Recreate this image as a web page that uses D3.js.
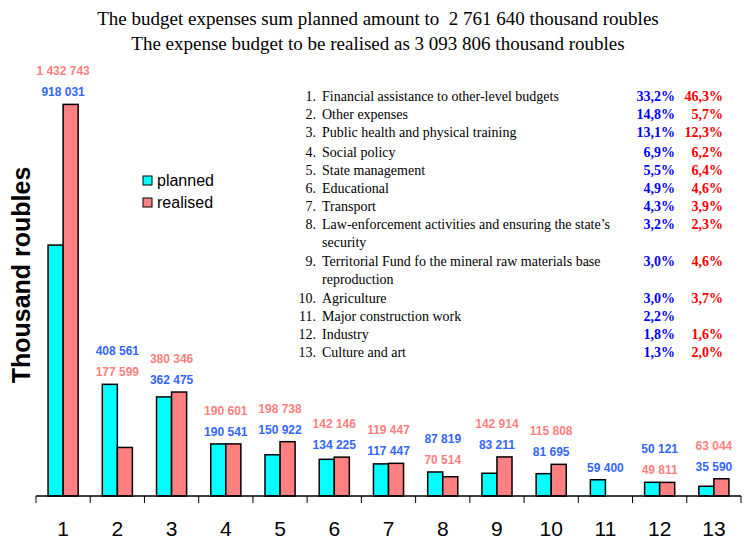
<!DOCTYPE html>
<html><head><meta charset="utf-8">
<script src="https://cdn.jsdelivr.net/npm/d3@7"></script>
<style>body{margin:0;background:#fff}svg{display:block}</style>
</head><body><svg id="c" width="753" height="551"></svg>
<script>
const categories = ["1","2","3","4","5","6","7","8","9","10","11","12","13"];
const planned = [918031,408561,362475,190541,150922,134225,117447,87819,83211,81695,59400,50121,35590];
const realised = [1432743,177599,380346,190601,198738,142146,119447,70514,142914,115808,null,49811,63044];
const itemNames = ["Financial assistance to other-level budgets","Other expenses","Public health and physical training","Social policy","State management","Educational","Transport",["Law-enforcement activities and ensuring the state’s","security"],["Territorial Fund fo the mineral raw materials base","reproduction"],"Agriculture","Major construction work","Industry","Culture and art"];
const plannedPct = ["33,2%","14,8%","13,1%","6,9%","5,5%","4,9%","4,3%","3,2%","3,0%","3,0%","2,2%","1,8%","1,3%"];
const realisedPct = ["46,3%","5,7%","12,3%","6,2%","6,4%","4,6%","3,9%","2,3%","4,6%","3,7%","","1,6%","2,0%"];
const titleLines = ["The budget expenses sum planned amount to  2 761 640 thousand roubles","The expense budget to be realised as 3 093 806 thousand roubles"];
const seriesNames = ["planned","realised"];

const fmt = v => d3.format(",")(v).replace(/,/g," ");
const svg = d3.select("#c");
const x = d3.scaleBand().domain(categories).range([36,741]).paddingInner(0.445).paddingOuter(0.2225);
const y = d3.scaleLinear().domain([0,1500000]).range([496,86]);
const sub = d3.scaleBand().domain(seriesNames).range([0,x.bandwidth()]);
const fills = {planned:"#00FFFF", realised:"#FF8080"};
const labelCol = {planned:"#3366FF", realised:"#FF8080"};

// title
svg.selectAll("text.title").data(titleLines).join("text")
  .attr("x",378).attr("y",(d,i)=>25+i*25).attr("text-anchor","middle")
  .style("white-space","pre")
  .style("font-family","'Liberation Serif','Times New Roman',serif").style("font-size","19px")
  .text(d=>d);

// bars
const rows = categories.map((c,i)=>({c, planned:planned[i], realised:realised[i]}));
const g = svg.append("g");
rows.forEach(r=>{
  seriesNames.forEach(s=>{
    if(r[s]==null) return;
    g.append("rect").attr("x",x(r.c)+sub(s)).attr("width",sub.bandwidth())
     .attr("y",y(r[s])).attr("height",y(0)-y(r[s]))
     .attr("fill",fills[s]).attr("stroke","#000").attr("stroke-width",1.5);
  });
  const vals = seriesNames.filter(s=>r[s]!=null).sort((a,b)=>r[a]-r[b]);
  const top = y(d3.max(vals,s=>r[s]));
  vals.forEach((s,k)=>{
    g.append("text").attr("x",x(r.c)+x.bandwidth()/2).attr("y",top-12-k*21+4)
     .attr("text-anchor","middle").attr("fill",labelCol[s])
     .style("font-family","'Liberation Sans',Arial,sans-serif").style("font-size","12px").style("font-weight","bold")
     .text(fmt(r[s]));
  });
});

// x axis
const ax = svg.append("g").attr("transform","translate(0,496)");
ax.append("line").attr("x1",36).attr("x2",741).attr("stroke","#000").attr("stroke-width",1.5);
const bounds = categories.map(c=>x(c)-x.step()*x.paddingInner()/2).concat([741]);
ax.selectAll("line.t").data(bounds).join("line").attr("x1",d=>d).attr("x2",d=>d).attr("y1",0).attr("y2",7).attr("stroke","#000");
ax.selectAll("text").data(categories).join("text")
  .attr("x",d=>x(d)+x.bandwidth()/2).attr("y",40).attr("text-anchor","middle")
  .style("font-family","'Liberation Sans',Arial,sans-serif").style("font-size","21px").text(d=>d);

// y title
svg.append("text").attr("transform","translate(30,275) rotate(-90)").attr("text-anchor","middle")
  .style("font-family","'Liberation Sans',Arial,sans-serif").style("font-size","25px").style("font-weight","bold")
  .text("Thousand roubles");

// legend
const lg = svg.append("g");
seriesNames.forEach((s,i)=>{
  lg.append("rect").attr("x",143).attr("y",176+i*22).attr("width",9).attr("height",9).attr("fill",fills[s]).attr("stroke","#000");
  lg.append("text").attr("x",157).attr("y",186+i*22)
    .style("font-family","'Liberation Sans',Arial,sans-serif").style("font-size","16px").text(s);
});

// list
const lineY = [101,119,137,157,175,193,211,229,266,303,321,339,357];
const ff = "'Liberation Serif','Times New Roman',serif";
const lst = svg.append("g");
itemNames.forEach((n,i)=>{
  const yy = lineY[i];
  lst.append("text").attr("x",316).attr("y",yy).attr("text-anchor","end").style("font-family",ff).style("font-size","14px").text((i+1)+".");
  const parts = Array.isArray(n)?n:[n];
  parts.forEach((p,k)=>lst.append("text").attr("x",322).attr("y",yy+k*18).style("font-family",ff).style("font-size","14px").text(p));
  lst.append("text").attr("x",675).attr("y",yy).attr("text-anchor","end").attr("fill","#0000FF").style("font-family",ff).style("font-size","14px").style("font-weight","bold").text(plannedPct[i]);
  lst.append("text").attr("x",723).attr("y",yy).attr("text-anchor","end").attr("fill","#FF0000").style("font-family",ff).style("font-size","14px").style("font-weight","bold").text(realisedPct[i]);
});
</script></body></html>
